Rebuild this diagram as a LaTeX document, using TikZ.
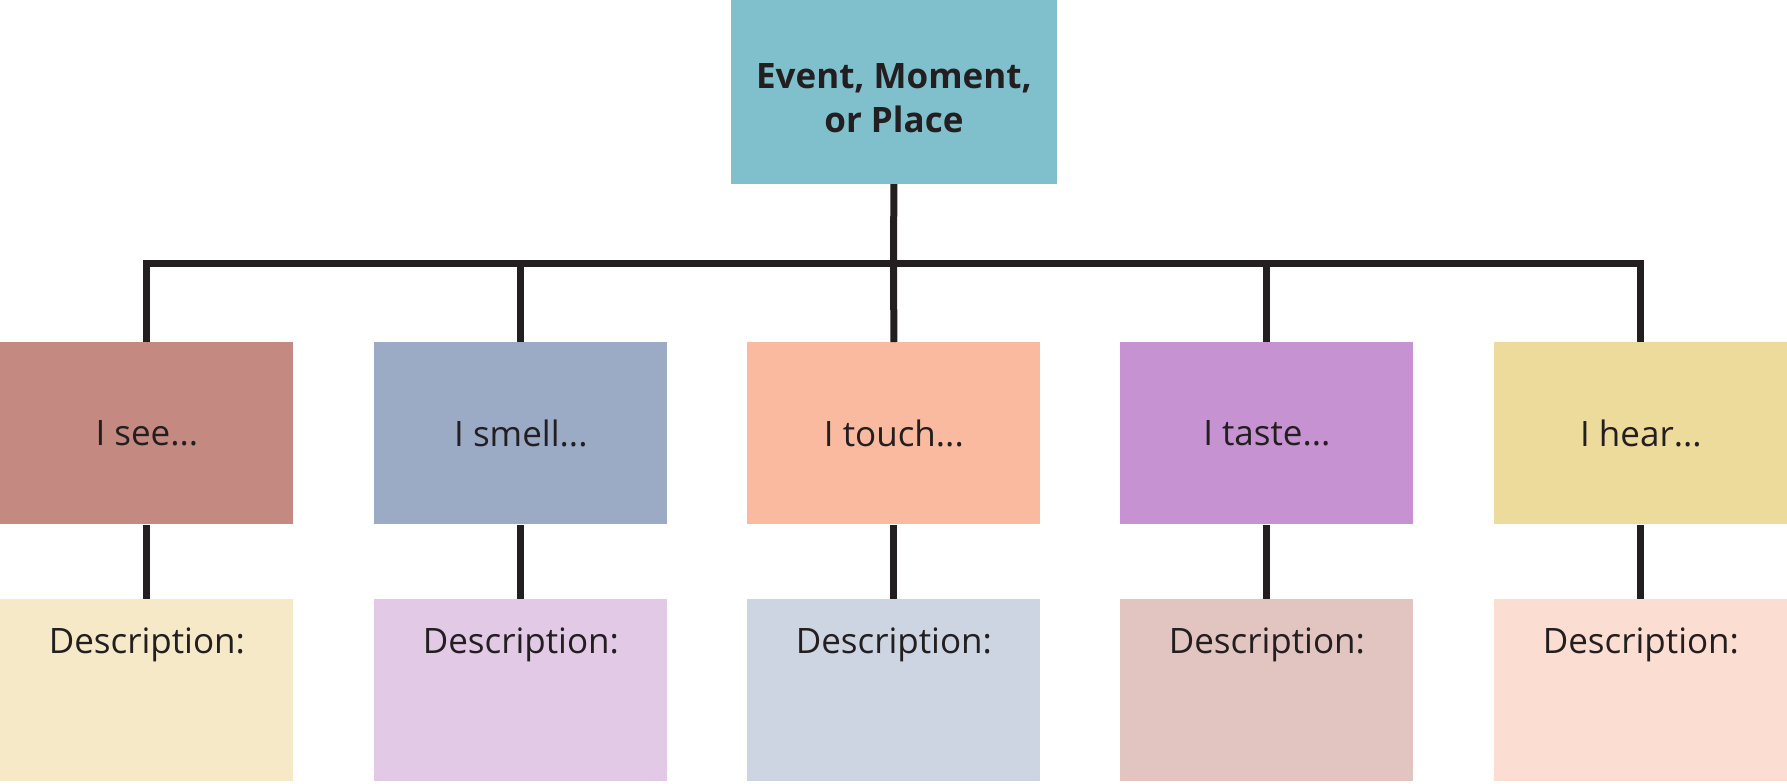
\documentclass[tikz,border=0pt]{standalone}
\usepackage{fontspec}
\setmainfont{Open Sans}
\definecolor{linec}{HTML}{231F20}
\definecolor{ctop}{HTML}{80C0CC}
\definecolor{c1}{HTML}{C48980}
\definecolor{c2}{HTML}{9BAAC5}
\definecolor{c3}{HTML}{F9BAA0}
\definecolor{c4}{HTML}{C692D1}
\definecolor{c5}{HTML}{EDDB9C}
\definecolor{d1}{HTML}{F6E9C8}
\definecolor{d2}{HTML}{E2CAE7}
\definecolor{d3}{HTML}{CDD5E3}
\definecolor{d4}{HTML}{E2C4C1}
\definecolor{d5}{HTML}{FCDDD2}
\tikzset{
  box/.style={rectangle, inner sep=0pt, anchor=north west, minimum width=146.5pt, minimum height=91pt, text=linec, font=\fontsize{17.5}{21.7}\selectfont},
  desc/.style={box, label={[anchor=base, yshift=-27pt, text=linec, font=\fontsize{17.5}{21.7}\selectfont]north:Description:}},
  conn/.style={draw=linec, line width=3.5pt, line join=miter},
}
\begin{document}
\begin{tikzpicture}[x=0.5pt, y=-0.5pt]
\useasboundingbox (0,0) rectangle (1787,783);
\node[box, fill=ctop, minimum width=163pt, minimum height=91.7pt,
  label={[yshift=-3pt, align=center, text=linec, font=\bfseries\fontsize{17.5}{21.7}\selectfont]center:Event, Moment,\\or Place}] (top) at (730.5,0) {};
\node[box, fill=c1] (b1) at (0,342) {I see...};
\node[box, fill=c2] (b2) at (374,342) {I smell...};
\node[box, fill=c3] (b3) at (747,342) {I touch...};
\node[box, fill=c4] (b4) at (1120,342) {I taste...};
\node[box, fill=c5] (b5) at (1494,342) {I hear...};
\node[desc, fill=d1] (e1) at (0,599) {};
\node[desc, fill=d2] (e2) at (374,599) {};
\node[desc, fill=d3] (e3) at (747,599) {};
\node[desc, fill=d4] (e4) at (1120,599) {};
\node[desc, fill=d5] (e5) at (1494,599) {};
\coordinate (j) at (893.5,263);
\draw[conn] (top.south) -- (j);
\draw[conn] (b1.north) |- (j) -| (b5.north);
\draw[conn] (j) -- (b3.north);
\draw[conn] (b2.north) -- (b2.north |- j);
\draw[conn] (b4.north) -- (b4.north |- j);
\foreach \i in {1,...,5} { \draw[conn] (b\i.south) -- (e\i.north); }
\end{tikzpicture}
\end{document}
